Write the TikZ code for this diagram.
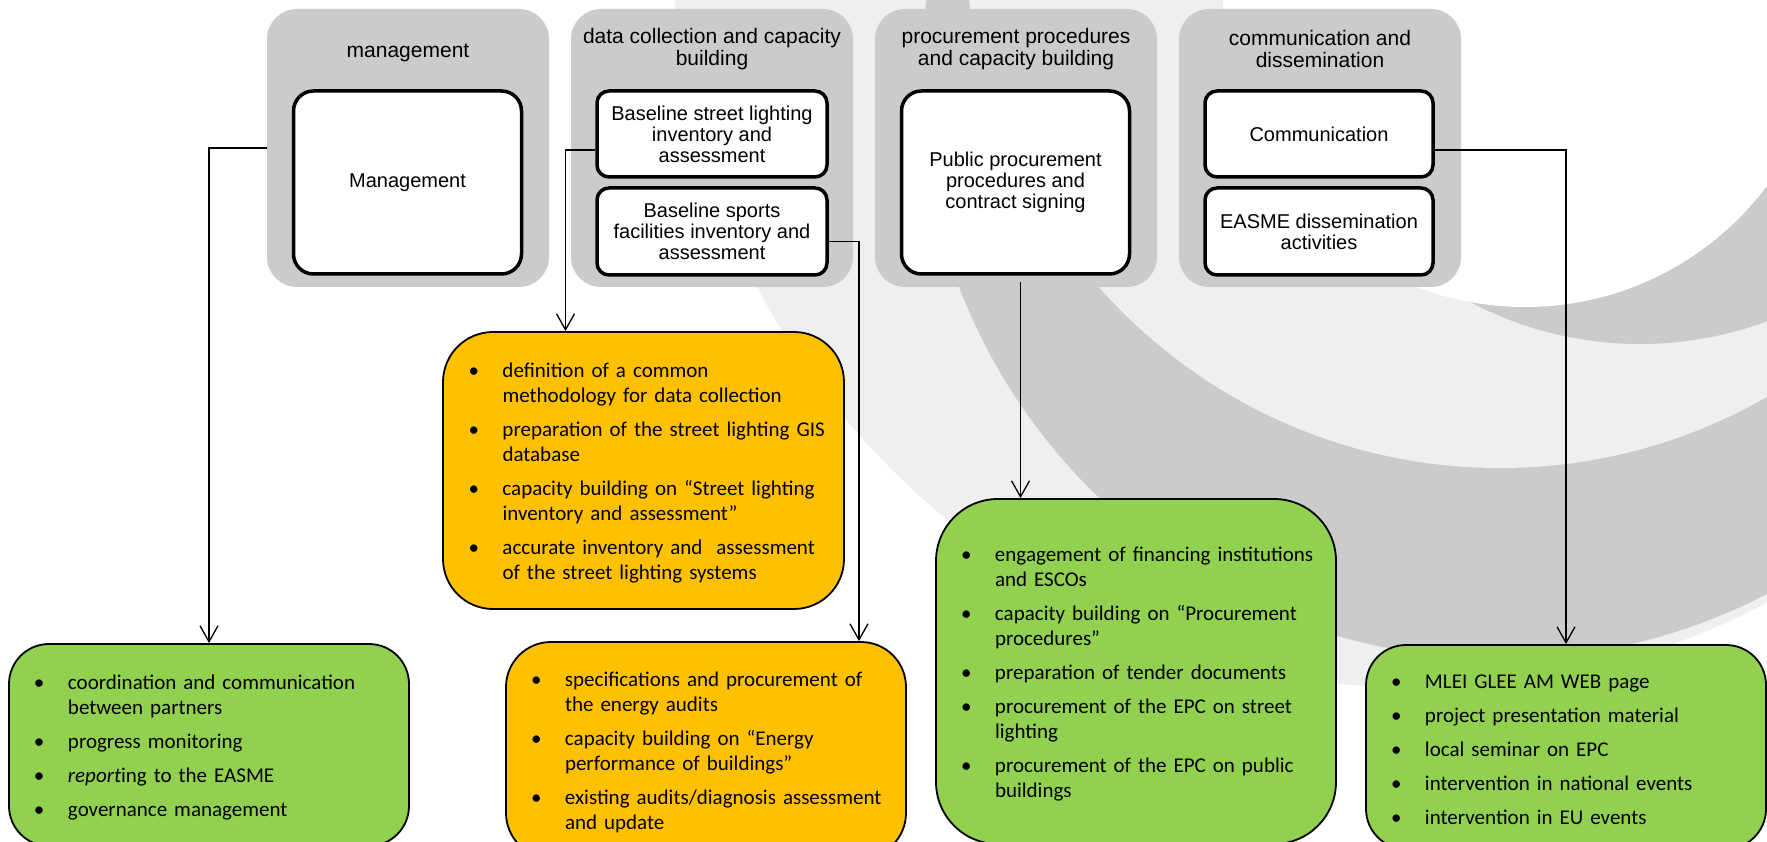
\documentclass[tikz,border=0pt]{standalone}
\usepackage{fontspec}
\setmainfont{Liberation Sans}
\newfontfamily\bulletfont{Carlito}
\usepackage{tikz}
\usetikzlibrary{arrows.meta,calc}

\definecolor{colgray}{HTML}{CBCBCB}
\definecolor{wmlight}{HTML}{EFEFEF}
\definecolor{taskorange}{HTML}{FFC000}
\definecolor{taskgreen}{HTML}{92D050}

\newcommand{\listsetup}{\setlength{\parskip}{9pt}\setlength{\leftskip}{15pt}}
\newcommand{\listend}{\par\kern14pt}
\newcommand{\bitem}[1]{\par\hangindent=34pt\hangafter=1\noindent\makebox[34pt][l]{\textbullet}#1\par}

\begin{document}
\begin{tikzpicture}[x=1pt,y=-1pt,
  column/.style={fill=colgray,rounded corners=30pt,minimum width=282pt,minimum height=278pt,inner sep=0pt},
  coltitle/.style={align=center,font=\fontsize{21}{22}\selectfont},
  taskbox/.style={draw=black,fill=white,line width=3.5pt,rounded corners=#1,minimum width=228pt,inner sep=0pt,align=center,font=\fontsize{20}{21}\selectfont},
  taskbox/.default=12pt,
  listbox/.style={draw=black,line width=1.8pt,rounded corners=#1,minimum width=400pt,inner sep=0pt,text width=380pt,align=left,font=\bulletfont\fontsize{21}{25}\selectfont},
  listbox/.default=45pt,
  link/.style={line width=1.3pt,-{Straight Barb[length=16pt,width=18pt]}}]
\useasboundingbox (0,0) rectangle (1767,842);

% logo in the back
\begin{scope}
\clip (0,0) rectangle (1767,842);
\fill[wmlight] (1420,-60) circle[radius=748pt];
\fill[colgray] (1500,80) circle[radius=579pt];
\fill[wmlight] (1500,-67) circle[radius=535pt];
\fill[colgray] (1640,-20) circle[radius=364pt];
\fill[white] (1525,5) circle[radius=302pt];
\end{scope}

% the four columns
\node[column] (mgmtcol) at (408,148) {};
\node[column] (datacol) at (712,148) {};
\node[column] (proccol) at (1016,148) {};
\node[column] (commcol) at (1320,148) {};
\node[coltitle] (mgmttitle) at ([yshift=-44pt]mgmtcol.north) {management};
\node[coltitle] (datatitle) at ([yshift=-40pt]datacol.north) {data collection and capacity\\building};
\node[coltitle] (proctitle) at ([yshift=-40pt]proccol.north) {procurement procedures\\and capacity building};
\node[coltitle] (commtitle) at ([yshift=-40pt]commcol.north) {communication and\\dissemination};

% white boxes
\node[taskbox=20pt,minimum height=183pt] (mgmtbox) at (407.5,182.5) {Management};
\node[taskbox,minimum width=230pt,minimum height=86pt] (streetbox) at (712,134) {Baseline street lighting\\inventory and\\assessment};
\node[taskbox,minimum width=230pt,minimum height=87pt] (sportsbox) at (712,231.5) {Baseline sports\\facilities inventory and\\assessment};
\node[taskbox=20pt,minimum height=183pt] (procbox) at (1015.5,182.5) {Public procurement\\procedures and\\contract signing};
\node[taskbox,minimum height=86pt] (commbox) at (1319,134) {Communication};
\node[taskbox,minimum height=87pt] (easmebox) at (1319,231.5) {EASME dissemination\\activities};

% lists
\node[listbox=40pt,fill=taskgreen,minimum height=202pt] (mgmtlist) at (209,745) {\listsetup
\bitem{coordination and communication\newline between partners}
\bitem{progress monitoring}
\bitem{\textit{report}ing to the EASME}
\bitem{governance management}\listend};
\node[listbox=50pt,fill=taskorange,minimum height=277pt,minimum width=401pt] (datalist) at (643.5,470.5) {\listsetup
\bitem{definition of a common\newline methodology for data collection}
\bitem{preparation of the street lighting GIS\newline database}
\bitem{capacity building on “Street lighting\newline inventory and assessment”}
\bitem{accurate inventory and\ \ assessment\newline of the street lighting systems}\listend};
\node[listbox,fill=taskorange,minimum height=216pt] (auditlist) at (706,750) {\listsetup
\bitem{specifications and procurement of\newline the energy audits}
\bitem{capacity building on “Energy\newline performance of buildings”}
\bitem{existing audits/diagnosis assessment\newline and update}\listend};
\node[listbox=62pt,fill=taskgreen,minimum height=345pt] (tenderlist) at (1136,671.5) {\listsetup
\bitem{engagement of financing institutions\newline and ESCOs}
\bitem{capacity building on “Procurement\newline procedures”}
\bitem{preparation of tender documents}
\bitem{procurement of the EPC on street\newline lighting}
\bitem{procurement of the EPC on public\newline buildings}\listend};
\node[listbox=40pt,fill=taskgreen,minimum height=204pt] (commlist) at (1566,747) {\listsetup
\bitem{MLEI GLEE AM WEB page}
\bitem{project presentation material}
\bitem{local seminar on EPC}
\bitem{intervention in national events}
\bitem{intervention in EU events}\listend};

% connectors
\draw[link] (mgmtcol.west) -| (mgmtlist.north);
\draw[link] ([yshift=-16pt]streetbox.west) -| ([xshift=-78pt]datalist.north);
\draw[link] ([yshift=-10pt]sportsbox.east) -| ([xshift=153pt]auditlist.north);
\draw[link] ([xshift=5pt,yshift=-6pt]procbox.south) -- ([xshift=5pt]procbox.south |- tenderlist.north);
\draw[link] ([yshift=-16pt]commbox.east) -| (commlist.north);
\end{tikzpicture}
\end{document}
